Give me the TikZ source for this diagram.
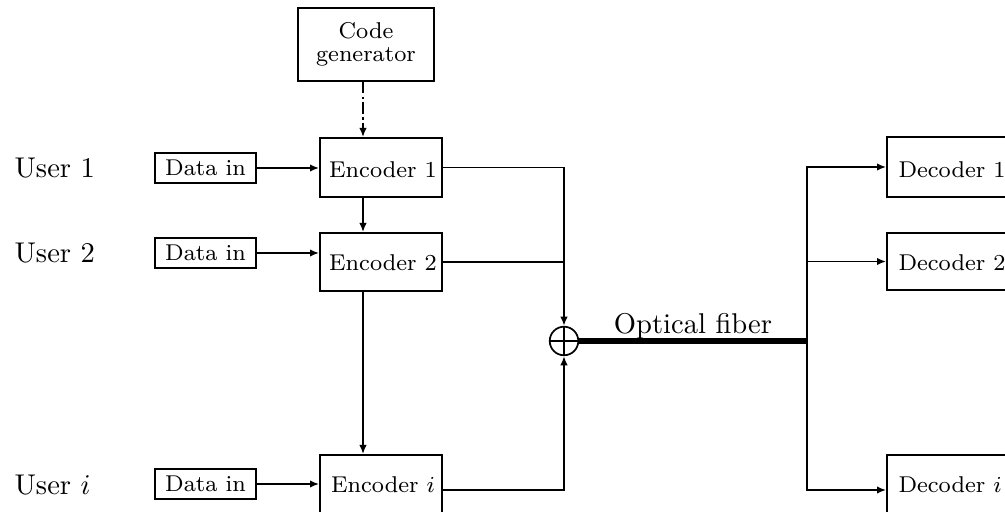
\documentclass[tikz,border=0pt]{standalone}
\usetikzlibrary{arrows.meta,fit}
\begin{document}
\begin{tikzpicture}[x=0.35pt,y=-0.35pt,
  blk/.style={draw, line width=0.6pt, inner sep=0pt},
  lbl/.style={font=\footnotesize, inner sep=0pt},
  usr/.style={anchor=west, inner sep=0pt},
  wire/.style={line width=0.6pt},
  arr/.style={wire,-{Latex[length=3.2pt,width=2.6pt]}},
  dashdot/.style={dash pattern=on 4pt off 1.2pt on 0.8pt off 1.2pt},
]
\useasboundingbox (0,0) rectangle (1005,512);
\clip (0,0) rectangle (1005,512);

% reference columns for vertical connectors
\coordinate (xc) at (363,0);
\coordinate (xd) at (807,0);

% code generator
\node[blk, fit={(298,8) (434,81)}] (cg) {};
\node[lbl, align=center] (cgt) at (cg.center) {Code\\[-1.6pt]generator};

% encoders
\node[blk, fit={(320,138) (442,197)}] (enc1) {};
\node[lbl] (enc1t) at (383,170) {Encoder 1};
\node[blk, fit={(320,233) (442,291)}] (enc2) {};
\node[lbl] (enc2t) at (383,263) {Encoder 2};
\node[blk, fit={(320,455) (442,525)}] (enci) {};
\node[lbl] (encit) at (383,485) {Encoder $i$};

% data inputs
\node[blk, fit={(155,153) (256,183)}] (data1) {};
\node[lbl] (data1t) at (data1.center) {Data in};
\node[blk, fit={(155,238) (256,268)}] (data2) {};
\node[lbl] (data2t) at (data2.center) {Data in};
\node[blk, fit={(155,469) (256,499)}] (datai) {};
\node[lbl] (datait) at (datai.center) {Data in};

% user labels
\node[usr] (u1) at (14,168) {User 1};
\node[usr] (u2) at (14,253) {User 2};
\node[usr] (ui) at (14,485) {User $i$};

% decoders (run past the right margin)
\node[blk, fit={(887,137) (1009,197)}] (dec1) {};
\node[lbl, anchor=west] (dec1t) at (898,170) {Decoder 1};
\node[blk, fit={(887,233) (1009,290)}] (dec2) {};
\node[lbl, anchor=west] (dec2t) at (898,263) {Decoder 2};
\node[blk, fit={(887,455) (1009,525)}] (deci) {};
\node[lbl, anchor=west] (decit) at (898,485) {Decoder $i$};

% optical adder
\node[circle, draw, line width=0.6pt, minimum size=10pt, inner sep=0pt] (add) at (564,341) {};
\draw[wire] (add.north) -- (add.south) (add.west) -- (add.east);
\coordinate (split) at (add.east -| xd);

% code generator feeds encoder 1
\draw[arr, dashdot] (cg.south -| xc) -- (enc1.north -| xc);

% encoder chain
\draw[arr] (enc1.south -| xc) -- (enc2.north -| xc);
\draw[arr] (enc2.south -| xc) -- (enci.north -| xc);

% data into encoders
\draw[arr] (data1.east) -- (data1.east -| enc1.west);
\draw[arr] (data2.east) -- (data2.east -| enc2.west);
\draw[arr] (datai.east) -- (datai.east -| enci.west);

% encoder outputs into the adder
\draw[arr] (enc1.east) -| (add.north);
\draw[wire] (enc2.east) -- (enc2.east -| add.north);
\draw[arr] (enci.east) -| (add.south);

% optical fiber
\draw[line width=1.8pt] (add.east) -- (split);
\node[inner sep=0pt] (fiber) at (693,326) {Optical fiber};

% distribution to decoders
\draw[arr] (split) |- (dec1.west);
\draw[arr] (split) -- (split |- dec2.west) -- (dec2.west);
\draw[arr] (split) |- (deci.west);
\end{tikzpicture}
\end{document}
